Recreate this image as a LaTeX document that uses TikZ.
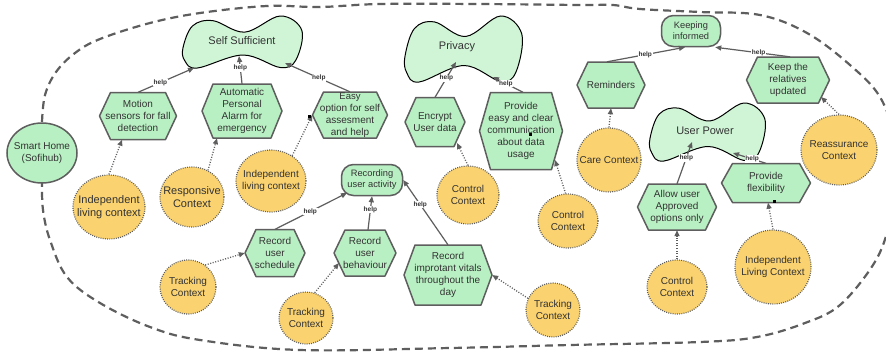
\documentclass[tikz,border=0pt]{standalone}
\usepackage{fontspec}
\setmainfont{Liberation Sans}
\usetikzlibrary{arrows.meta,shapes.geometric,calc}

\definecolor{taskgreen}{HTML}{B9F0C3}
\definecolor{goalgreen}{HTML}{D0F5D6}
\definecolor{ctxyellow}{HTML}{FAD270}
\definecolor{edgegray}{HTML}{5E5E5E}
\definecolor{txt}{HTML}{333333}

\tikzset{
  tasktext/.style={align=center, text=txt, font=\fontsize{10}{12}\selectfont, inner sep=0pt},
  taskshape/.style={fill=taskgreen, draw=edgegray, line width=1.5pt, line join=round},
  softgoal/.style={fill=goalgreen, draw=black, line width=1pt},
  goaltext/.style={text=txt, font=\fontsize{11}{13}\selectfont, inner sep=1pt},
  goalbox/.style={rectangle, rounded corners=12pt, fill=taskgreen, draw=edgegray, line width=1.5pt,
    align=center, text=txt, font=\fontsize{9.3}{11}\selectfont, inner sep=0pt},
  context/.style={ellipse, fill=ctxyellow, draw=edgegray, line width=1.2pt, dash pattern=on 0.9pt off 1.3pt,
    align=center, inner xsep=-9pt, inner ysep=-2pt, text=txt, font=\fontsize{10}{12}\selectfont},
  actor/.style={ellipse, fill=taskgreen, draw=edgegray, line width=1.5pt,
    align=center, inner xsep=-9pt, inner ysep=-2pt, text=txt, font=\fontsize{10}{12}\selectfont},
  helps/.style={draw=edgegray, line width=1.2pt, -{Triangle[length=6pt,width=5pt]}},
  helplabel/.style={font=\bfseries\fontsize{6.5}{7}\selectfont, text=txt, fill=white, inner sep=0.6pt},
  contextlink/.style={draw=edgegray, line width=1.3pt, dash pattern=on 1pt off 1.6pt, -{Triangle[length=6pt,width=5pt]}},
  boundary/.style={draw=edgegray, line width=2.2pt, dash pattern=on 8pt off 5pt},
}

% hexagonal task: name, x, y, width, height, text
\newcommand\taskhex[6]{%
  \pgfmathsetmacro\hxl{#2-#4/2}%
  \pgfmathsetmacro\hxr{#2+#4/2}%
  \pgfmathsetmacro\hxa{#2-#4/2+11}%
  \pgfmathsetmacro\hxb{#2+#4/2-11}%
  \pgfmathsetmacro\hyt{#3-#5/2}%
  \pgfmathsetmacro\hyb{#3+#5/2}%
  \path[taskshape] (\hxl,#3) -- (\hxa,\hyt) -- (\hxb,\hyt) -- (\hxr,#3) -- (\hxb,\hyb) -- (\hxa,\hyb) -- cycle;%
  \node[tasktext, minimum width=#4pt, minimum height=#5pt] (#1) at (#2,#3) {#6};%
}

% soft goal outline: name, x, y, width, height, text x, text y, text
\newcommand\softgoalat[8]{%
  \path[softgoal, shift={(#2,#3)}, xscale=#4/2, yscale=#5/2]
    plot[smooth cycle, tension=0.6] coordinates {
      (-1.0,0.22) (-0.84,-0.62) (-0.5,-0.82) (0.03,-0.38) (0.62,-1.0)
      (0.98,-0.45) (0.88,0.7) (0.62,0.98) (0.0,0.5) (-0.76,1.0) (-0.97,0.72)};%
  \node[goaltext] (#1) at (#6,#7) {#8};%
}

\begin{document}
\begin{tikzpicture}[x=1pt, y=-1pt]
\useasboundingbox (0,0) rectangle (886,354);
\clip (0,0) rectangle (886,354);
\fill[white] (0,0) rectangle (886,354);

% system boundary
\draw[boundary] plot[smooth, tension=0.6] coordinates {
  (42,122) (45,95) (56,72) (75,53) (100,39) (150,23) (200,13) (267,6) (320,7)
  (380,4) (480,4) (580,5) (613,5) (640,9) (700,12) (760,15) (807,33) (850,65)
  (880,97) (895,140) (898,185) (888,230) (873,265) (840,305) (805,323) (757,337)
  (700,342) (570,345) (450,348) (300,350) (200,340) (150,327) (100,303) (67,277)
  (50,240) (43,210) (42,182)};

% actor
\node[actor, minimum width=70pt, minimum height=60pt] (home) at (42,153) {Smart Home\\(Sofihub)};

% soft goals
\softgoalat{selfsuff}{243}{42}{120}{52}{242}{41}{Self Sufficient}
\softgoalat{privacy}{464}{49}{118}{66}{457}{47}{Privacy}
\softgoalat{userpower}{708}{132}{116}{58}{705}{131}{User Power}

% goals
\node[goalbox, minimum width=59pt, minimum height=31pt] (informed) at (691,31) {Keeping\\informed};
\node[goalbox, minimum width=61pt, minimum height=31pt] (recording) at (372,180) {Recording\\user activity};

% tasks
\taskhex{motion}{138}{116}{77}{47}{Motion\\sensors for fall\\detection}
\taskhex{alarm}{242}{111}{80}{54}{Automatic\\Personal\\Alarm for\\emergency}
\taskhex{easy}{350}{115}{75}{46}{\fontsize{9.5}{11.3}\selectfont Easy\\option for self\\assesment\\and help}
\taskhex{encrypt}{435}{122}{60}{49}{Encrypt\\User data}
\taskhex{provide}{521}{131}{83}{77}{Provide\\easy and clear\\communication\\about data\\usage}
\taskhex{reminders}{611}{85}{68}{46}{Reminders}
\taskhex{keeprel}{788}{80}{83}{46}{Keep the\\relatives\\updated}
\taskhex{allow}{677}{207}{79}{46}{Allow user\\Approved\\options only}
\taskhex{flex}{766}{183}{89}{39}{Provide\\flexibility}
\taskhex{schedule}{275}{253}{60}{47}{Record\\user\\schedule}
\taskhex{behaviour}{365}{253}{62}{46}{Record\\user\\behaviour}
\taskhex{vitals}{448}{275}{88}{60}{Record\\improtant vitals\\throughout the\\day}

% contexts
\node[context, minimum width=72pt, minimum height=64pt, font=\fontsize{11}{13}\selectfont] (ctxindepA) at (109,207) {Independent\\living context};
\node[context, minimum width=64pt, minimum height=60pt, font=\fontsize{11}{13}\selectfont] (ctxresp) at (192,197) {Responsive\\Context};
\node[context, minimum width=70pt, minimum height=62pt] (ctxindepB) at (271,181) {Independent\\living context};
\node[context, minimum width=56pt, minimum height=54pt] (ctxtrackA) at (188,287) {Tracking\\Context};
\node[context, minimum width=54pt, minimum height=52pt] (ctxtrackB) at (306,318) {Tracking\\Context};
\node[context, minimum width=54pt, minimum height=54pt] (ctxtrackC) at (553,310) {Tracking\\Context};
\node[context, minimum width=62pt, minimum height=58pt] (ctxctrlA) at (468,195) {Control\\Context};
\node[context, minimum width=60pt, minimum height=54pt] (ctxctrlB) at (568,221) {Control\\Context};
\node[context, minimum width=64pt, minimum height=64pt] (ctxcare) at (609,160) {Care Context};
\node[context, minimum width=76pt, minimum height=70pt] (ctxreass) at (839,150) {Reassurance\\Context};
\node[context, minimum width=60pt, minimum height=54pt] (ctxctrlC) at (677,287) {Control\\Context};
\node[context, minimum width=76pt, minimum height=74pt] (ctxindepC) at (773,267) {Independent\\Living Context};

% help links
\draw[helps] (motion.north) -- node[helplabel,pos=0.4]{help} ($(selfsuff)+(-48,27)$);
\draw[helps] (alarm.north) -- node[helplabel,pos=0.57]{help} ($(selfsuff)+(-3,15)$);
\draw[helps] (easy.north) -- node[helplabel,pos=0.48]{help} ($(selfsuff)+(43,22)$);
\draw[helps] (encrypt.north) -- node[helplabel,pos=0.54]{help} ($(privacy)+(-1,15)$);
\draw[helps] ([xshift=2pt]provide.north) -- node[helplabel,pos=0.57]{help} ($(privacy)+(36,30)$);
\draw[helps] ([xshift=-4pt]reminders.north) -- node[helplabel,pos=0.49]{help} ([xshift=-6pt]informed.south);
\draw[helps] ([xshift=2pt]keeprel.north) -- node[helplabel,pos=0.42]{help} ([xshift=-6pt]informed.south east);
\draw[helps] (allow.north) -- node[helplabel,pos=0.62]{help} ($(userpower)+(-13,11)$);
\draw[helps] (flex.north) -- node[helplabel,pos=0.42]{help} ($(userpower)+(28,22)$);
\draw[helps] (schedule.north) -- node[helplabel,pos=0.49]{help} ($(recording)+(-25,13)$);
\draw[helps] ([xshift=3pt]behaviour.north) -- node[helplabel,pos=0.6]{help} (recording.south);
\draw[helps] (vitals.north) -- node[helplabel,pos=0.62]{help} (recording.east);

% context links
\draw[contextlink] (ctxindepA.north) -- ([xshift=-16pt]motion.south);
\draw[contextlink] (ctxresp.59) -- ([xshift=-25pt]alarm.south);
\draw[contextlink] (ctxindepB.50) -- (easy.west);
\draw[contextlink] (ctxctrlA.north) -- ($(encrypt)+(22,21)$);
\draw[contextlink] (ctxctrlB.95) -- ($(provide)+(34,29)$);
\draw[contextlink] (ctxcare.north) -- (reminders.south);
\draw[contextlink] (ctxreass.north) -- ($(keeprel)+(33,17)$);
\draw[contextlink] (ctxctrlC.north) -- (allow.south);
\draw[contextlink] (ctxindepC.north) -- ([xshift=2pt]flex.south);
\draw[contextlink] (ctxtrackA.52) -- (schedule.west);
\draw[contextlink] (ctxtrackB.71) -- ($(behaviour)+(-26,10)$);
\draw[contextlink] (ctxtrackC.155) -- (vitals.east);

% connection point markers
\fill[black] (308,115) rectangle (310.5,117.5);
\fill[black] (529,133) rectangle (531.5,135.5);
\fill[black] (773,200) rectangle (775.5,202.5);
\end{tikzpicture}
\end{document}
